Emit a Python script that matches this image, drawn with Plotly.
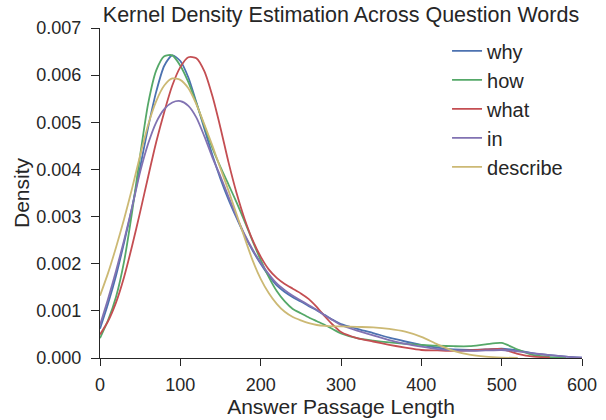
import plotly.graph_objects as go

# Shared x grid (answer passage length)
x_vals = [0, 10, 20, 30, 40, 50, 60, 70, 80, 90, 100, 110, 120, 130, 140, 150,
          160, 170, 180, 190, 200, 210, 220, 230, 240, 250, 260, 270, 280, 290,
          300, 320, 340, 360, 380, 400, 420, 440, 460, 480, 500, 520, 540, 560,
          580, 600]

# Density values (x 1e-3)
why = [0.62, 1.15, 1.75, 2.45, 3.2, 4.05, 4.9, 5.65, 6.2, 6.42, 6.3, 5.95,
       5.42, 4.86, 4.3, 3.8, 3.36, 2.97, 2.6, 2.28, 2.0, 1.75, 1.54, 1.4,
       1.29, 1.2, 1.1, 1.01, 0.91, 0.81, 0.72, 0.62, 0.53, 0.43, 0.35, 0.28,
       0.22, 0.18, 0.17, 0.18, 0.2, 0.16, 0.1, 0.06, 0.03, 0.01]
how = [0.42, 0.8, 1.3, 2.05, 3.1, 4.3, 5.4, 6.1, 6.4, 6.42, 6.2, 5.85,
       5.4, 4.92, 4.45, 4.05, 3.68, 3.3, 2.9, 2.48, 2.08, 1.72, 1.42, 1.2,
       1.04, 0.95, 0.86, 0.78, 0.7, 0.61, 0.52, 0.42, 0.37, 0.33, 0.3, 0.28,
       0.26, 0.25, 0.25, 0.29, 0.32, 0.18, 0.06, 0.02, 0.0, None]
what = [0.5, 0.78, 1.18, 1.72, 2.38, 3.1, 3.85, 4.58, 5.22, 5.78, 6.17, 6.38,
        6.36, 6.08, 5.55, 4.88, 4.15, 3.5, 2.95, 2.5, 2.15, 1.88, 1.7, 1.57,
        1.47, 1.37, 1.25, 1.08, 0.88, 0.7, 0.55, 0.42, 0.35, 0.28, 0.22, 0.17,
        0.16, 0.15, 0.16, 0.18, 0.19, 0.09, 0.03, 0.01, None, None]
in_ = [0.7, 1.25, 1.85, 2.5, 3.2, 3.95, 4.55, 5.0, 5.28, 5.42, 5.45, 5.35,
       5.1, 4.7, 4.25, 3.85, 3.42, 3.0, 2.62, 2.3, 2.02, 1.78, 1.58, 1.44,
       1.32, 1.22, 1.12, 1.02, 0.9, 0.8, 0.7, 0.58, 0.48, 0.38, 0.3, 0.24,
       0.19, 0.16, 0.15, 0.16, 0.17, 0.14, 0.1, 0.06, 0.03, 0.01]
describe = [1.32, 1.8, 2.35, 2.95, 3.6, 4.3, 4.95, 5.45, 5.78, 5.93, 5.9,
            5.72, 5.38, 4.95, 4.5, 4.02, 3.55, 3.05, 2.55, 2.07, 1.68, 1.38,
            1.15, 0.98, 0.87, 0.8, 0.74, 0.7, 0.68, 0.67, 0.67, 0.66, 0.65,
            0.62, 0.56, 0.45, 0.29, 0.15, 0.07, 0.03, 0.01, 0.0, None, None,
            None, None]

series_names = ["why", "how", "what", "in", "describe"]
series_values = [why, how, what, in_, describe]
colors = ["#4C72B0", "#55A868", "#C44E52", "#8172B2", "#CCB974"]

x_ticks = [0, 100, 200, 300, 400, 500, 600]
y_ticks = [0.000, 0.001, 0.002, 0.003, 0.004, 0.005, 0.006, 0.007]

FONT = "Liberation Sans, Arial, sans-serif"
INK = "#262626"

fig = go.Figure()
for name, vals, col in zip(series_names, series_values, colors):
    fig.add_trace(go.Scatter(
        x=x_vals,
        y=[None if v is None else v / 1000.0 for v in vals],
        mode="lines",
        name=name,
        legendgroup=name,
        line=dict(color=col, width=1.8, shape="spline", smoothing=0.7),
        connectgaps=False,
    ))

fig.update_layout(
    width=606, height=420,
    margin=dict(l=100, r=24, t=28, b=62, autoexpand=False),
    paper_bgcolor="white", plot_bgcolor="white",
    font=dict(family=FONT, size=18, color=INK),
    title=dict(text="Kernel Density Estimation Across Question Words",
               x=0.5, xref="paper", xanchor="center",
               y=1 - 14 / 420, yref="container", yanchor="middle",
               font=dict(size=21.5, color=INK), automargin=False),
    showlegend=True,
    legend=dict(x=0.72, y=0.99, xanchor="left", yanchor="top",
                bgcolor="rgba(0,0,0,0)", font=dict(size=20, color=INK),
                tracegroupgap=0),
    xaxis=dict(range=[0, 600], tickvals=x_ticks, showgrid=False,
               zeroline=False, showline=True, linecolor=INK, linewidth=1.2,
               ticks="outside", ticklen=7, tickcolor=INK, tickwidth=1.2,
               tickfont=dict(size=18, color=INK), ticklabelstandoff=3,
               automargin=False,
               title=dict(text="Answer Passage Length",
                          font=dict(size=21, color=INK), standoff=2)),
    yaxis=dict(range=[0, 0.007], tickvals=y_ticks, tickformat=".3f",
               showgrid=False, zeroline=False, showline=True, linecolor=INK,
               linewidth=1.2, ticks="outside", ticklen=8, tickcolor=INK,
               tickwidth=1.2, tickfont=dict(size=18, color=INK),
               ticklabelstandoff=6, automargin=False,
               title=dict(text="Density", font=dict(size=21, color=INK),
                          standoff=0)),
)

# Remove the default page margin so the figure sits at the window's corner.
fig.write_html(
    "out.html",
    config={"displayModeBar": False},
    post_script="document.body.style.margin='0';"
                "document.body.style.overflow='hidden';",
)
